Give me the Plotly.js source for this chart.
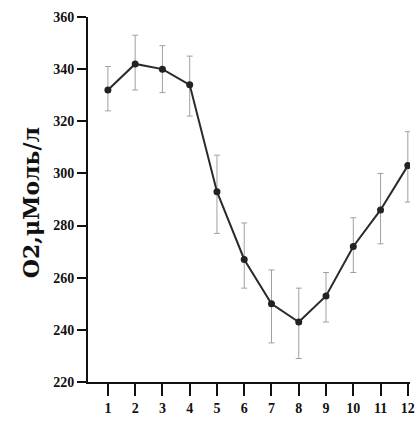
<!DOCTYPE html>
<html>
<head>
<meta charset="utf-8">
<script src="https://cdn.plot.ly/plotly-3.0.1.min.js"></script>
<style>html,body{margin:0;padding:0;background:#fff;}#chart{width:418px;height:421px;}</style>
</head>
<body>
<div id="chart"></div>
<script>
const months = [1,2,3,4,5,6,7,8,9,10,11,12];
const o2Mean = [332, 342, 340, 334, 293, 267, 250, 243, 253, 272, 286, 303];
const o2Upper = [341, 353, 349, 345, 307, 281, 263, 256, 262, 283, 300, 316];
const o2Lower = [324, 332, 331, 322, 277, 256, 235, 229, 243, 262, 273, 289];
const yTicks = [220, 240, 260, 280, 300, 320, 340, 360];

const errPlus = o2Upper.map((u, i) => u - o2Mean[i]);
const errMinus = o2Mean.map((m, i) => m - o2Lower[i]);

const trace = {
  x: months, y: o2Mean, type: 'scatter', mode: 'lines+markers',
  line: {color: '#2a2a2a', width: 2},
  marker: {color: '#222', size: 7},
  error_y: {type: 'data', symmetric: false, array: errPlus, arrayminus: errMinus,
            color: '#a0a0a0', thickness: 1, width: 3}
};

const layout = {
  width: 418, height: 421,
  margin: {l: 88, r: 8, t: 17, b: 39},
  paper_bgcolor: '#fff', plot_bgcolor: '#fff',
  showlegend: false,
  xaxis: {
    range: [0.27, 12.08], tickvals: months, ticktext: months.map(String),
    showgrid: false, zeroline: false, showline: true, linecolor: '#111', linewidth: 2,
    ticks: 'outside', ticklen: 12, tickwidth: 2, tickcolor: '#111',
    tickfont: {family: 'Liberation Serif, serif', size: 14, color: '#111', weight: 'bold'}
  },
  yaxis: {
    range: [220, 360], tickvals: yTicks, ticktext: yTicks.map(String),
    showgrid: false, zeroline: false, showline: true, linecolor: '#111', linewidth: 2,
    ticks: 'outside', ticklen: 9, tickwidth: 2, tickcolor: '#111',
    tickfont: {family: 'Liberation Serif, serif', size: 14, color: '#111', weight: 'bold'}
  },
  annotations: [{
    text: 'O2,μМоль/л', xref: 'paper', yref: 'paper', x: -0.177, y: 0.49,
    textangle: -90, showarrow: false, xanchor: 'center', yanchor: 'middle',
    font: {family: 'DejaVu Serif, serif', size: 22, color: '#111', weight: 'bold'}
  }]
};

Plotly.newPlot('chart', [trace], layout, {displayModeBar: false, staticPlot: true});
</script>
</body>
</html>
